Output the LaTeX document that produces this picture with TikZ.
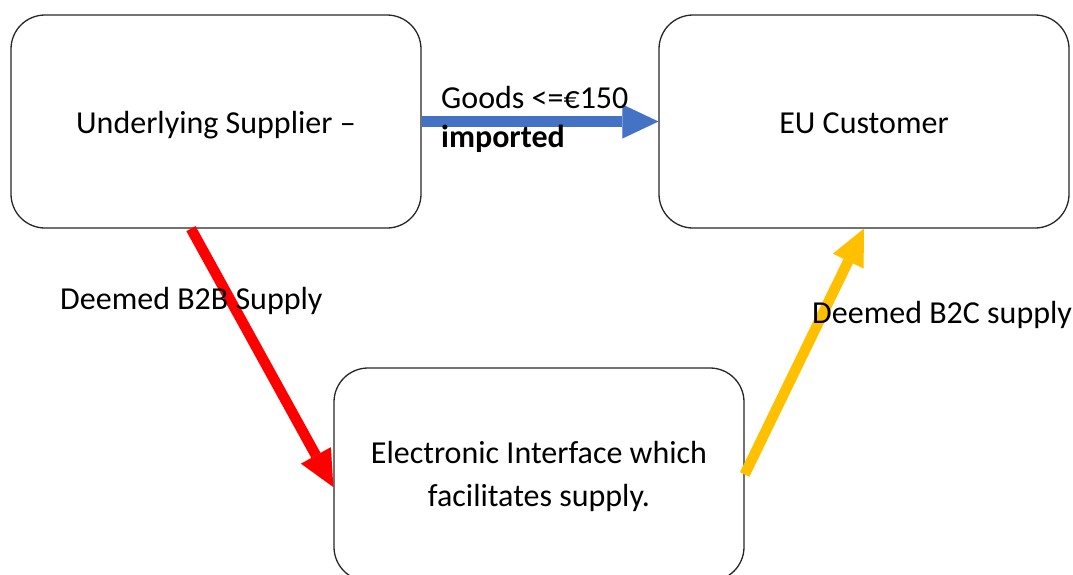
\documentclass[tikz,border=0pt]{standalone}
\usepackage{fontspec}
\setmainfont{Carlito}
\usetikzlibrary{arrows.meta}
\definecolor{arrowblue}{HTML}{4472C4}
\definecolor{arrowred}{HTML}{FF0000}
\definecolor{arrowgold}{HTML}{FFC000}
\begin{document}
\begin{tikzpicture}[x=1pt,y=-1pt,
  party/.style={draw=black!85, line width=1.3pt, rounded corners=34pt,
    minimum width=410pt, minimum height=213pt, inner sep=0pt,
    font=\fontsize{32pt}{39pt}\selectfont, align=center},
  single/.style={text height=24pt, text depth=1pt},
  flow/.style={line width=10.5pt,
    -{Triangle[length=36pt,width=34pt,line width=0.01pt]}},
  note/.style={inner sep=0pt, anchor=base west,
    font=\fontsize{32pt}{39pt}\selectfont, align=left}]
  \useasboundingbox (0,0) rectangle (1073,574);
  \clip (0,0) rectangle (1073,574);

  % parties
  \node[party,single] (sup) at (216,121.5) {Underlying Supplier –};
  \node[party,single] (cust) at (864,121.5) {EU Customer};
  \node[party,text depth=2pt,font=\fontsize{32pt}{43pt}\selectfont] (iface) at (539,474.5)
    {Electronic Interface which\\facilitates supply.};

  % flows of supply
  \draw[flow,arrowblue] (sup.east) -- (cust.west);
  \draw[flow,arrowred] ([xshift=-25pt]sup.south) -- ([yshift=-12.5pt]iface.west);
  \draw[flow,arrowgold] (iface.east) -- (cust.south);

  % flow labels (base anchor sits on the last line)
  \node[note] (goods) at (441,147) {Goods <=€150\\\textbf{imported}};
  \node[note] (b2b) at (60,309) {Deemed B2B Supply};
  \node[note] (b2c) at (812,323) {Deemed B2C supply};
\end{tikzpicture}
\end{document}
